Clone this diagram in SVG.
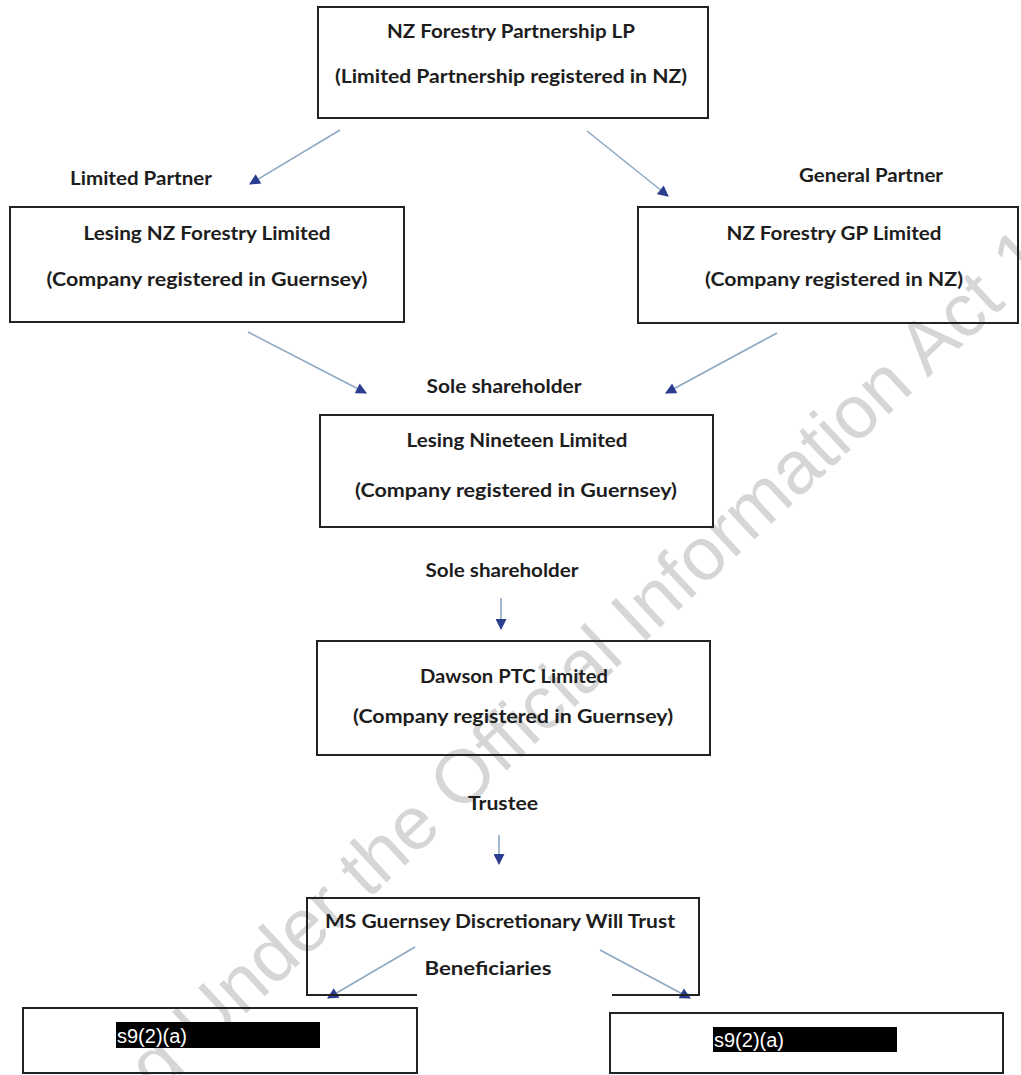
<svg xmlns="http://www.w3.org/2000/svg" width="1021" height="1075" viewBox="0 0 1021 1075">
<defs>
<marker id="ah" viewBox="0 0 10 10" refX="9" refY="5" markerWidth="12" markerHeight="11" markerUnits="userSpaceOnUse" orient="auto">
<path d="M0,0 L10,5 L0,10 z" fill="#2b3d8f"/>
</marker>
<style>
.box{fill:none;stroke:#222;stroke-width:2}
.t{font-family:Lato,"Open Sans","Liberation Sans",sans-serif;font-weight:700;font-size:18px;fill:#1d1d1d;text-anchor:middle}
.c{fill:none;stroke:#8fa8c2;stroke-width:1.6;marker-end:url(#ah)}
.red{fill:#000}
.rt{font-family:"Liberation Sans",Arial,sans-serif;font-size:20px;fill:#fff}
.wm{font-family:"Liberation Sans",Arial,sans-serif;font-size:75px;fill:#d6d6d6}
</style>
</defs>
<rect width="1021" height="1075" fill="#fff"/>
<text class="wm" transform="translate(-44,1284) rotate(-43)">Released Under the Official Information Act 1982</text>

<g id="connectors">
<line class="c" x1="340" y1="130" x2="250" y2="184"/>
<line class="c" x1="587" y1="131" x2="668" y2="196"/>
<line class="c" x1="248" y1="332" x2="366" y2="393"/>
<line class="c" x1="777" y1="333" x2="666" y2="393"/>
<line class="c" x1="501" y1="598" x2="501" y2="629"/>
<line class="c" x1="499" y1="835" x2="499" y2="864"/>
<line class="c" x1="415" y1="947" x2="328" y2="998"/>
<line class="c" x1="600" y1="950" x2="690" y2="998"/>
</g>

<g id="label-limited-partner"><text class="t" x="141" y="185" textLength="142" lengthAdjust="spacingAndGlyphs">Limited Partner</text></g>
<g id="label-general-partner"><text class="t" x="871" y="182" textLength="144" lengthAdjust="spacingAndGlyphs">General Partner</text></g>
<g id="label-sole-1"><text class="t" x="504" y="393" textLength="155" lengthAdjust="spacingAndGlyphs">Sole shareholder</text></g>
<g id="label-sole-2"><text class="t" x="502" y="577" textLength="153" lengthAdjust="spacingAndGlyphs">Sole shareholder</text></g>
<g id="label-trustee"><text class="t" x="503" y="810" textLength="70" lengthAdjust="spacingAndGlyphs">Trustee</text></g>

<g id="nz-forestry-partnership">
<rect class="box" x="318" y="7" width="390" height="111"/>
<text class="t" x="511" y="38" textLength="248" lengthAdjust="spacingAndGlyphs">NZ Forestry Partnership LP</text>
<text class="t" x="511" y="83" textLength="352" lengthAdjust="spacingAndGlyphs">(Limited Partnership registered in NZ)</text>
</g>

<g id="lesing-nz-forestry">
<rect class="box" x="10" y="207" width="394" height="115"/>
<text class="t" x="207" y="240" textLength="247" lengthAdjust="spacingAndGlyphs">Lesing NZ Forestry Limited</text>
<text class="t" x="207" y="286" textLength="321" lengthAdjust="spacingAndGlyphs">(Company registered in Guernsey)</text>
</g>

<g id="nz-forestry-gp">
<rect class="box" x="638" y="207" width="380" height="116"/>
<text class="t" x="834" y="240" textLength="215" lengthAdjust="spacingAndGlyphs">NZ Forestry GP Limited</text>
<text class="t" x="834" y="286" textLength="258" lengthAdjust="spacingAndGlyphs">(Company registered in NZ)</text>
</g>

<g id="lesing-nineteen">
<rect class="box" x="320" y="415" width="393" height="112"/>
<text class="t" x="517" y="447" textLength="221" lengthAdjust="spacingAndGlyphs">Lesing Nineteen Limited</text>
<text class="t" x="516" y="497" textLength="322" lengthAdjust="spacingAndGlyphs">(Company registered in Guernsey)</text>
</g>

<g id="dawson-ptc">
<rect class="box" x="317" y="641" width="393" height="114"/>
<text class="t" x="514" y="683" textLength="188" lengthAdjust="spacingAndGlyphs">Dawson PTC Limited</text>
<text class="t" x="513" y="723" textLength="320" lengthAdjust="spacingAndGlyphs">(Company registered in Guernsey)</text>
</g>

<g id="ms-guernsey-trust">
<path class="box" d="M417,995 L307,995 L307,898 L699,898 L699,995 L612,995"/>
<text class="t" x="500" y="928" textLength="350" lengthAdjust="spacingAndGlyphs">MS Guernsey Discretionary Will Trust</text>
<text class="t" x="488" y="975" textLength="127" lengthAdjust="spacingAndGlyphs">Beneficiaries</text>
</g>

<g id="beneficiary-left">
<rect class="box" x="23" y="1008" width="394" height="65"/>
<rect class="red" x="116" y="1022" width="204" height="26"/>
<text class="rt" x="117" y="1043">s9(2)(a)</text>
</g>

<g id="beneficiary-right">
<rect class="box" x="610" y="1013" width="393" height="60"/>
<rect class="red" x="713" y="1027" width="184" height="25"/>
<text class="rt" x="714" y="1047">s9(2)(a)</text>
</g>
</svg>
